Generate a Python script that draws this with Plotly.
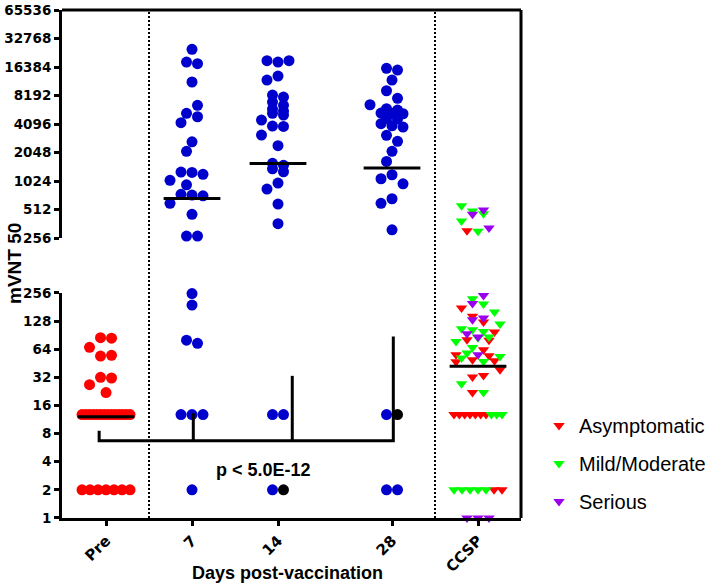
import math
import plotly.graph_objects as go

# ---------------- data ----------------
group_labels = ["Pre", "7", "14", "28", "CCSP"]

pre_values = [85, 84, 67, 54, 55, 32, 31.5, 26.7, 22,
              12.8, 12.8, 12.8, 12.8, 12.8, 12.8, 12.8,
              12.8, 12.8, 12.8, 12.8, 12.8, 12.8, 12.8,
              2, 2, 2, 2, 2, 2, 2]

day7_values = [25200, 18500, 17750, 11380, 6450, 5310, 4890, 4230, 2660, 2110,
               1275, 1265, 1205, 1042, 936, 741, 729, 716, 596, 456,
               269, 269, 252, 190, 80, 74, 12.8, 12.8, 12.8, 2]

day14_values = [19100, 18500, 19100, 13160, 11940, 8290, 7900, 6990, 6450, 5900,
                5620, 5310, 5100, 4510, 3900, 3870, 3130, 2420, 1575, 1500,
                1380, 1284, 975, 843, 585, 363, 12.8, 12.8, 2, 2]
day14_marked = [29]          # point drawn in black

day28_values = [15870, 15230, 11940, 9200, 7650, 6550, 5940, 5760, 5350, 5310,
                5260, 4700, 4620, 4130, 3930, 3810, 3110, 2690, 2110, 1650,
                1194, 1083, 959, 666, 596, 313, 12.8, 12.8, 2, 2]
day28_marked = [27]          # point drawn in black

ccsp_values = [562, 494, 456, 462, 506, 387, 306, 303, 327,
               222, 241, 197, 177, 195, 160, 144, 132, 138, 125,
               119, 106, 103.5, 99, 97.7, 93.7, 86.4, 86.4, 80.8, 77.5,
               85, 80, 66.8, 63.2, 55.8, 58.2, 56, 54.5, 53.5, 51.4,
               49.3, 47.3, 47, 48.1, 38.6, 32.2, 33.5, 27.3, 22, 22,
               12.8, 12.8, 12.8, 12.8, 12.8, 12.8, 12.8, 12.8, 12.8, 12.8,
               2, 2, 2, 2, 2, 2, 2,
               1, 1, 1]
ccsp_class = ["M", "M", "S", "M", "S", "M", "A", "M", "S",
              "M", "S", "S", "A", "M", "M", "A", "S", "S", "A",
              "M", "M", "M", "M", "A", "S", "S", "M", "A", "M",
              "M", "A", "M", "A", "A", "M", "S", "A", "M", "M",
              "A", "M", "A", "A", "A", "A", "A", "M", "A", "M",
              "A", "A", "A", "A", "A", "A", "A", "M", "M", "M",
              "M", "M", "M", "M", "M", "A", "A",
              "S", "S", "S"]
class_names = {"A": "Asymptomatic", "M": "Mild/Moderate", "S": "Serious"}

lower_ticks = [1, 2, 4, 8, 16, 32, 64, 128, 256]
upper_ticks = [256, 512, 1024, 2048, 4096, 8192, 16384, 32768, 65536]
p_text = "p < 5.0E-12"

# ---------------- layout constants ----------------
W, H = 717, 588
M = dict(l=62, r=196, t=10, b=70, autoexpand=False)
PW = W - M["l"] - M["r"]
PH = H - M["t"] - M["b"]
X_RANGE = [-0.512, 4.826]
XPOS = [0, 1, 2, 3.326, 4.326]
LOW_DOMAIN = [0, 0.443]
UP_DOMAIN = [0.551, 1]
LOW_RANGE = [1, 256]
UP_RANGE = [256, 65536]
PXU = PW / (X_RANGE[1] - X_RANGE[0])
DOT = 11.0
HALF_W = 24.0

BLUE = "#0000CC"
RED = "#FF0000"
COLORS = {"A": "#FF0000", "M": "#00FF00", "S": "#9900EE"}
FONT = "Liberation Sans, Arial, sans-serif"
TICKFONT = "DejaVu Sans, sans-serif"


def px_to_paper_x(px_abs):
    return (px_abs - M["l"]) / PW


def px_to_paper_y(py_abs):
    return 1 - (py_abs - M["t"]) / PH


def is_upper(v):
    return v > 256


def y_px(v):
    dom, r = (UP_DOMAIN, UP_RANGE) if is_upper(v) else (LOW_DOMAIN, LOW_RANGE)
    frac = (math.log(v) - math.log(r[0])) / (math.log(r[1]) - math.log(r[0]))
    return PH * (dom[0] + (dom[1] - dom[0]) * frac)


def swarm(values, tol=3.5):
    ys = [y_px(v) for v in values]
    n = len(values)
    offs = [0.0] * n
    order = sorted(range(n), key=lambda i: -ys[i])
    groups, cur = [], [order[0]]
    for idx in order[1:]:
        if abs(ys[idx] - ys[cur[0]]) <= tol:
            cur.append(idx)
        else:
            groups.append(cur)
            cur = [idx]
    groups.append(cur)
    placed = []
    for g in groups:
        if len(g) >= 2:
            g = sorted(g)
            m = len(g)
            step = min(DOT, 2 * HALF_W / (m - 1))
            for k, idx in enumerate(g):
                offs[idx] = (k - (m - 1) / 2) * step
                placed.append((offs[idx], ys[idx]))
    cands = [0.0]
    k = 1
    while k * DOT / 2 <= HALF_W + 1e-9:
        cands += [-k * DOT / 2, k * DOT / 2]
        k += 1
    for g in groups:
        if len(g) == 1:
            idx = g[0]
            best, bestd = 0.0, -1
            for c in cands:
                md = min((math.hypot(c - px, ys[idx] - py) for px, py in placed), default=1e9)
                if md >= DOT * 0.98:
                    best = c
                    break
                if md > bestd:
                    bestd, best = md, c
            offs[idx] = best
            placed.append((best, ys[idx]))
    return offs


def geo_mean(values):
    return math.exp(sum(math.log(v) for v in values) / len(values))


fig = go.Figure()


def add_points(xc, values, offs, colors, symbol, size, name=None, legend=False, lgroup=None):
    first = True
    for axis_name, upper in (("y2", True), ("y", False)):
        idx = [i for i, v in enumerate(values) if is_upper(v) == upper]
        if not idx:
            continue
        fig.add_trace(go.Scatter(
            x=[xc + offs[i] / PXU for i in idx], y=[values[i] for i in idx],
            xaxis="x", yaxis=axis_name, mode="markers", cliponaxis=False,
            marker=dict(symbol=symbol, size=size,
                        color=[colors[i] for i in idx] if isinstance(colors, list) else colors,
                        line=dict(width=0)),
            name=name, showlegend=bool(legend and first), legendgroup=lgroup,
            hoverinfo="skip"))
        first = False


blue_groups = [(pre_values, [], RED), (day7_values, [], BLUE),
               (day14_values, day14_marked, BLUE), (day28_values, day28_marked, BLUE)]
for gi, (vals, marked, col) in enumerate(blue_groups):
    offs = swarm(vals)
    cols = ["#000000" if i in marked else col for i in range(len(vals))]
    add_points(XPOS[gi], vals, offs, cols, "circle", DOT)

# CCSP
ccsp_offs = swarm(ccsp_values)
for cls in ["A", "M", "S"]:
    idx = [i for i, c in enumerate(ccsp_class) if c == cls]
    add_points(XPOS[4], [ccsp_values[i] for i in idx], [ccsp_offs[i] for i in idx],
               COLORS[cls], "triangle-down", 10, name=class_names[cls], legend=True, lgroup=cls)

# geometric mean lines
all_groups = [pre_values, day7_values, day14_values, day28_values, ccsp_values]
for gi, vals in enumerate(all_groups):
    gm = geo_mean(vals)
    fig.add_trace(go.Scatter(
        x=[XPOS[gi] - 0.33, XPOS[gi] + 0.33], y=[gm, gm], mode="lines",
        xaxis="x", yaxis="y2" if is_upper(gm) else "y",
        line=dict(color="black", width=3), showlegend=False, hoverinfo="skip", cliponaxis=False))

# significance bracket
fig.add_trace(go.Scatter(
    x=[-0.08, -0.08, 3.341, 3.341, None, 1.015, 1.015, None, 2.166, 2.166],
    y=[8.6, 6.7, 6.7, 87.7, None, 13.2, 6.7, None, 33.2, 6.7],
    mode="lines", xaxis="x", yaxis="y", line=dict(color="black", width=3),
    showlegend=False, hoverinfo="skip", cliponaxis=False))

axis_common = dict(type="log", showline=True, linecolor="black", linewidth=3,
                   ticks="outside", ticklen=5, tickwidth=2.5, tickcolor="black",
                   showgrid=False, zeroline=False, automargin=False,
                   ticklabeloverflow="allow",
                   tickfont=dict(family=TICKFONT, size=13.5, color="black", weight="bold"))

fig.update_layout(
    width=W, height=H, margin=M, plot_bgcolor="white", paper_bgcolor="white",
    xaxis=dict(range=X_RANGE, domain=[0, 1], anchor="y", showline=True, linecolor="black",
               linewidth=3, ticks="outside", ticklen=5, tickwidth=2.5, tickcolor="black",
               showgrid=False, zeroline=False, tickvals=XPOS, ticktext=group_labels,
               tickangle=-45, automargin=False, ticklabeloverflow="allow",
               tickfont=dict(family=TICKFONT, size=15, color="black", weight="bold")),
    yaxis=dict(domain=LOW_DOMAIN, anchor="x",
               range=[math.log10(LOW_RANGE[0]), math.log10(LOW_RANGE[1])],
               tickvals=lower_ticks, ticktext=[str(t) for t in lower_ticks], **axis_common),
    yaxis2=dict(domain=UP_DOMAIN, anchor="x",
                range=[math.log10(UP_RANGE[0]), math.log10(UP_RANGE[1])],
                tickvals=upper_ticks, ticktext=[str(t) for t in upper_ticks], **axis_common),
    legend=dict(x=px_to_paper_x(539), y=px_to_paper_y(406), xanchor="left", yanchor="top",
                font=dict(family=FONT, size=20, color="black"),
                tracegroupgap=9, bgcolor="rgba(0,0,0,0)"),
    shapes=[
        dict(type="line", xref="paper", yref="paper", x0=0, x1=1, y0=1, y1=1,
             line=dict(color="black", width=3)),
        dict(type="line", xref="paper", yref="paper", x0=1, x1=1, y0=0, y1=1,
             line=dict(color="black", width=3)),
        dict(type="line", xref="x", yref="paper", x0=0.5, x1=0.5, y0=0, y1=1,
             line=dict(color="black", width=2, dash="2px,2px")),
        dict(type="line", xref="x", yref="paper", x0=3.826, x1=3.826, y0=0, y1=1,
             line=dict(color="black", width=2, dash="2px,2px")),
    ],
    annotations=[
        dict(text="mVNT 50", xref="paper", yref="paper", x=px_to_paper_x(14),
             y=px_to_paper_y(264), xanchor="center", yanchor="middle",
             textangle=-90, showarrow=False,
             font=dict(family=FONT, size=19, color="black", weight="bold")),
        dict(text="Days post-vaccination", xref="paper", yref="paper",
             x=px_to_paper_x(287), y=px_to_paper_y(573), xanchor="center", yanchor="middle",
             showarrow=False,
             font=dict(family=FONT, size=18, color="black", weight="bold")),
        dict(text=p_text, xref="x", yref="y", x=1.826, y=math.log10(3.27), showarrow=False,
             xanchor="center", yanchor="middle",
             font=dict(family=FONT, size=18, color="black", weight="bold")),
    ],
)

fig.write_html("out.html", config={"displayModeBar": False},
               post_script="document.body.style.margin='0px';")
